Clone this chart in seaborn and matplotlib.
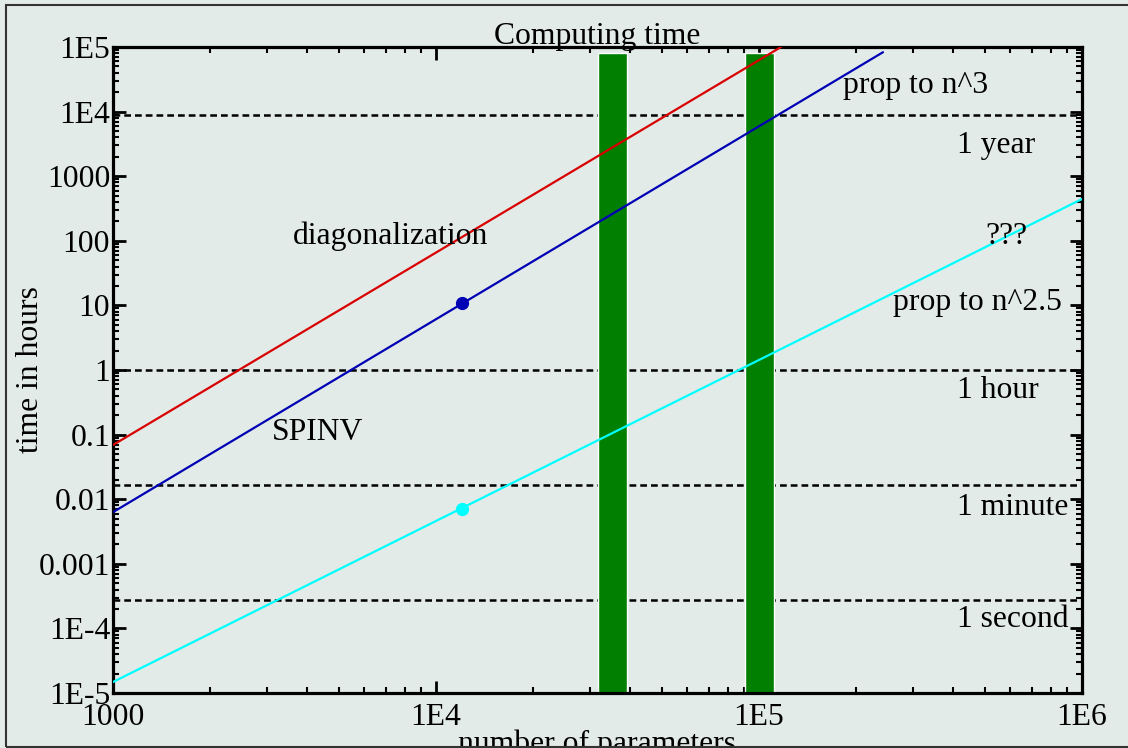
import seaborn as sns
import matplotlib.pyplot as plt
import pandas as pd
import numpy as np
from matplotlib.ticker import LogLocator, NullFormatter
from matplotlib.patches import Rectangle

# values (hours vs number of parameters)
red_n = [1000, 117000]
red_t = [0.069, 1.0e5]
blue_n = [1000, 242000]
blue_t = [0.0063, 8.3e4]
cyan_n = [1000, 1.0e6]
cyan_t = [1.48e-5, 444]

dot_n = [12000, 12000]
dot_t = [11, 0.0071]
dot_colors = ["#0000b4", "#00ffff"]

bar_left = [31800, 90600]
bar_right = [39000, 111000]
bar_top = [8.1e4, 8.1e4]

ref_hours = [8760, 1, 0.0167, 2.78e-4]   # year, hour, minute, second

x_ticks = [1e3, 1e4, 1e5, 1e6]
x_labels = ["1000", "1E4", "1E5", "1E6"]
y_ticks = [1e-5, 1e-4, 1e-3, 1e-2, 1e-1, 1, 10, 100, 1000, 1e4, 1e5]
y_labels = ["1E-5", "1E-4", "0.001", "0.01", "0.1", "1", "10", "100", "1000", "1E4", "1E5"]

lines = pd.DataFrame({
    "n": red_n + blue_n + cyan_n,
    "hours": red_t + blue_t + cyan_t,
    "series": ["diag"] * 2 + ["spinv"] * 2 + ["new"] * 2,
})
palette = {"diag": "#d80000", "spinv": "#0000b4", "new": "#00ffff"}

bg = "#e3ebe8"
sns.set_theme(style="ticks")
plt.rcParams["font.family"] = ["Liberation Serif", "DejaVu Serif"]
plt.rcParams["text.color"] = "black"
plt.rcParams["axes.labelcolor"] = "black"

fig = plt.figure(figsize=(11.28, 7.48), dpi=100, facecolor=bg)
ax = fig.add_axes([113 / 1128, 1 - 693 / 748, 969 / 1128, 646 / 748])
ax.set_facecolor(bg)
ax.set_xscale("log")
ax.set_yscale("log")

for h in ref_hours:
    ax.axhline(h, color="black", lw=1.8, ls=(0, (2.7, 1.6)), zorder=1)

ax.bar(bar_left, bar_top, width=np.array(bar_right) - np.array(bar_left),
       bottom=1e-5, align="edge", color="#007f00", zorder=2)

sns.lineplot(data=lines, x="n", y="hours", hue="series", palette=palette,
             sort=False, estimator=None, lw=1.6, legend=False, ax=ax, zorder=3)
for n, t, c in zip(dot_n, dot_t, dot_colors):
    ax.plot(n, t, "o", color=c, ms=8.5, zorder=4)

ax.set_xlim(1e3, 1e6)
ax.set_ylim(1e-5, 1e5)
ax.set_xticks(x_ticks, x_labels)
ax.set_yticks(y_ticks, y_labels)
for axis in (ax.xaxis, ax.yaxis):
    axis.set_minor_locator(LogLocator(base=10, subs=np.arange(2, 10), numticks=100))
    axis.set_minor_formatter(NullFormatter())

fs = 22.8
ax.tick_params(which="both", direction="in", top=True, right=True, labelsize=fs,
               colors="black", labelcolor="black")
ax.tick_params(which="major", length=9, width=2)
ax.tick_params(which="minor", length=4.5, width=1.5)
ax.tick_params(axis="y", pad=2)
ax.tick_params(axis="x", pad=7)
for s in ax.spines.values():
    s.set_linewidth(2.3)
    s.set_color("black")

# fixed y so the title sits on the top spine like the original
ax.set_title("Computing time", fontsize=fs, y=1.0, pad=2)
ax.set_xlabel("number of parameters", fontsize=fs)
ax.xaxis.set_label_coords(0.5, -0.056)
ax.set_ylabel("time in hours", fontsize=fs)
ax.yaxis.set_label_coords(-0.070, 0.5)

labels = [
    ("prop to n^3", 0.7534, 0.940),
    ("1 year", 0.871, 0.848),
    ("???", 0.900, 0.706),
    ("prop to n^2.5", 0.805, 0.605),
    ("1 hour", 0.871, 0.469),
    ("1 minute", 0.871, 0.2875),
    ("1 second", 0.871, 0.114),
    ("diagonalization", 0.1858, 0.707),
    ("SPINV", 0.164, 0.4036),
]
for txt, x, y in labels:
    ax.text(x, y, txt, transform=ax.transAxes, ha="left", va="center", fontsize=fs, zorder=5)

fig.patches.append(Rectangle((6 / 1128, 1 / 748), 1.0, 742 / 748, transform=fig.transFigure,
                             fill=False, edgecolor="#333333", lw=1.5))

fig.savefig("out.png", dpi=100, facecolor=bg)
